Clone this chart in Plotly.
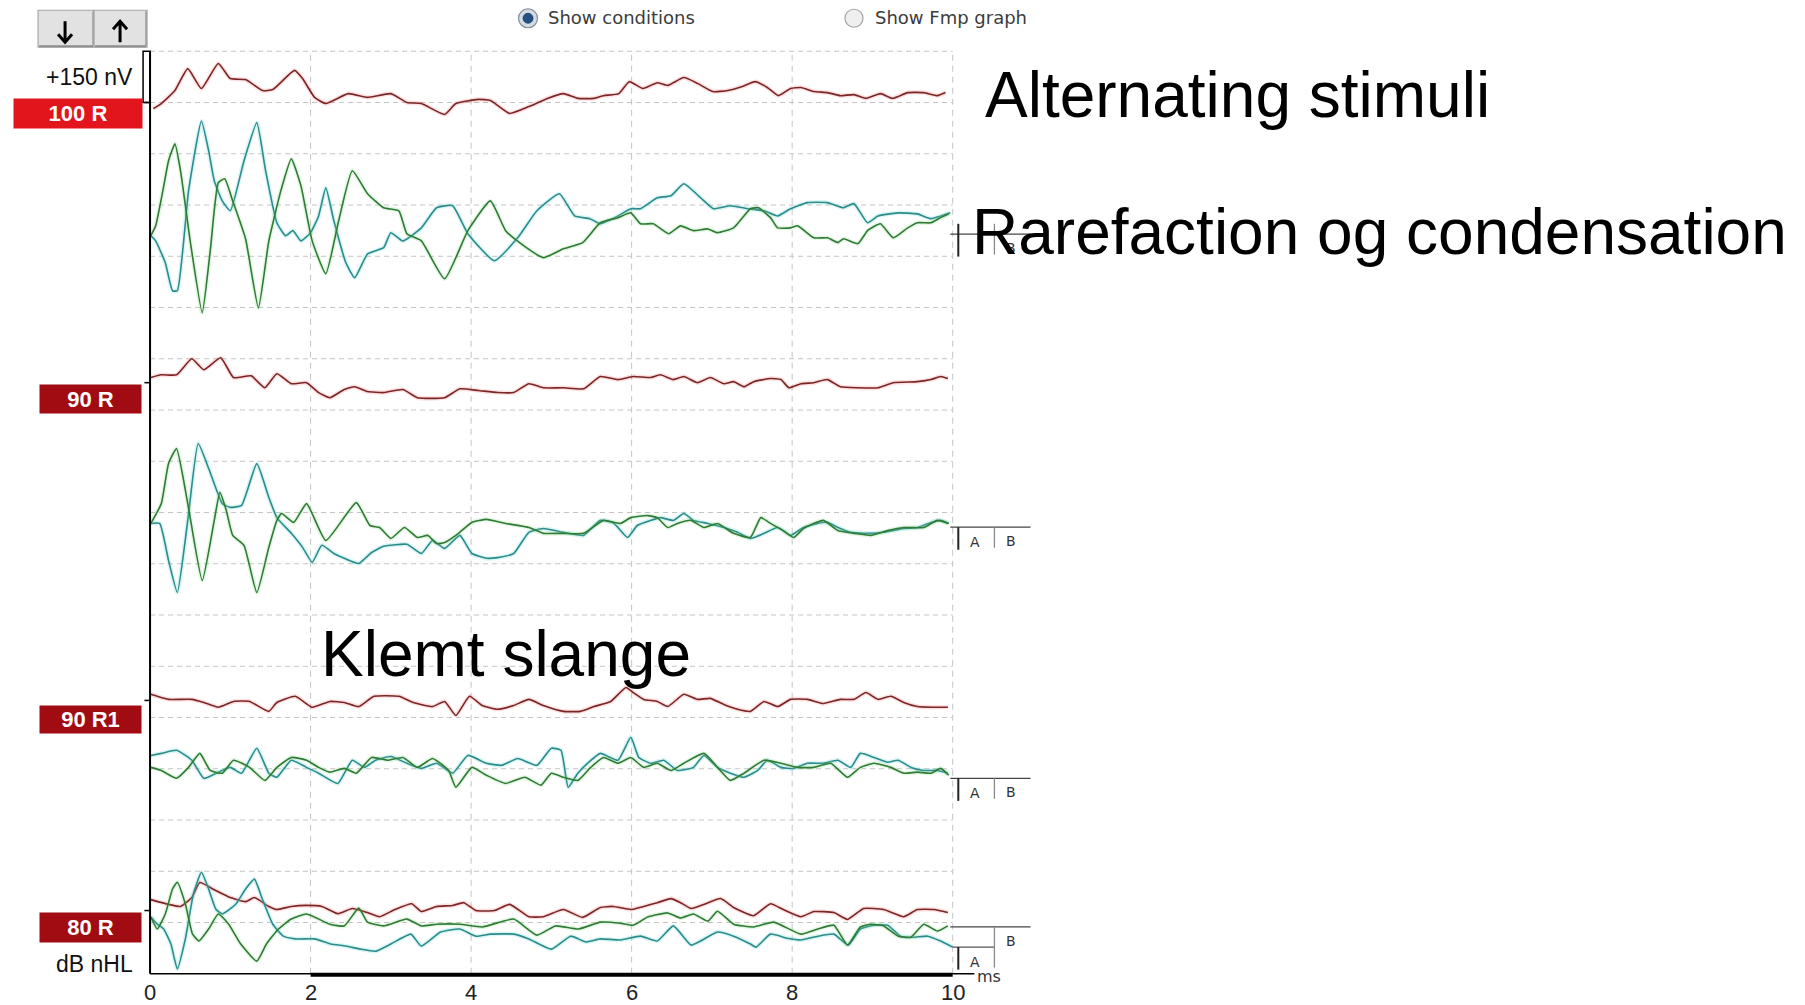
import plotly.graph_objects as go

# ---------------------------------------------------------------------------
# ABR recording: latency in ms, amplitude in nV relative to each trace baseline.
# "alt" = alternating-polarity average, "a" / "b" = the two single-polarity
# averages (rarefaction / condensation) recorded for the same level.
# ---------------------------------------------------------------------------

# 100 dB nHL
t_100_alt = [0.04, 0.14, 0.31, 0.47, 0.64, 0.85, 1.00, 1.19, 1.40, 1.53, 1.80, 1.90, 2.05, 2.19, 2.47,
             2.71, 3.00, 3.20, 3.38, 3.67, 3.81, 4.09, 4.24, 4.48, 4.72, 4.95, 5.15, 5.33, 5.53, 5.65,
             5.84, 5.97, 6.14, 6.32, 6.45, 6.65, 6.82, 7.01, 7.20, 7.38, 7.54, 7.69, 7.83, 7.98, 8.11,
             8.27, 8.44, 8.60, 8.77, 8.92, 9.10, 9.25, 9.44, 9.64, 9.81, 9.91]
v_100_alt = [-18, -3, 35, 99, 41, 114, 70, 67, 35, 38, 94, 70, 15, -3, 26,
             15, 26, 0, -3, -35, -3, 9, 6, -32, -12, 12, 26, 12, 12, 20,
             26, 61, 41, 58, 50, 73, 56, 32, 35, 47, 61, 44, 20, 41, 44,
             32, 29, 20, 23, 12, 26, 12, 29, 29, 20, 29]

t_100_a = [0.01, 0.07, 0.19, 0.28, 0.34, 0.48, 0.64, 0.73, 0.80, 0.90, 1.00, 1.17, 1.33, 1.44, 1.58,
           1.69, 1.78, 1.88, 2.00, 2.10, 2.19, 2.29, 2.44, 2.55, 2.71, 2.91, 3.00, 3.15, 3.38, 3.57,
           3.77, 3.96, 4.29, 4.58, 4.82, 5.10, 5.29, 5.48, 5.61, 5.83, 5.99, 6.11, 6.32, 6.49, 6.65,
           6.86, 7.02, 7.23, 7.45, 7.65, 7.82, 7.98, 8.19, 8.44, 8.64, 8.77, 8.94, 9.07, 9.32, 9.56,
           9.73, 9.97]
v_100_a = [0, -15, -79, -161, -161, 132, 336, 249, 161, 102, 73, 219, 331, 190, 38,
           0, 15, -15, 9, 58, 140, 44, -79, -123, -53, -35, 9, -15, 23, 82,
           88, 6, -73, -6, 73, 123, 58, 50, 35, 58, 79, 79, 111, 117, 152,
           111, 79, 88, 79, 73, 58, 79, 97, 97, 82, 94, 38, 58, 67, 64,
           50, 67]

t_100_b = [0.01, 0.07, 0.16, 0.23, 0.31, 0.38, 0.50, 0.65, 0.75, 0.85, 0.93, 1.03, 1.19, 1.35, 1.48,
           1.63, 1.76, 1.88, 2.02, 2.19, 2.35, 2.52, 2.71, 2.91, 3.10, 3.20, 3.38, 3.67, 3.96, 4.24,
           4.43, 4.62, 4.90, 5.15, 5.39, 5.61, 5.83, 5.99, 6.11, 6.27, 6.46, 6.61, 6.77, 6.95, 7.07,
           7.27, 7.48, 7.58, 7.73, 7.82, 7.98, 8.07, 8.27, 8.44, 8.57, 8.64, 8.82, 8.94, 9.10, 9.26,
           9.44, 9.56, 9.73, 9.85, 9.95]
v_100_b = [0, 29, 132, 219, 269, 190, -15, -225, -44, 155, 167, 102, -9, -211, -15,
           132, 225, 146, -15, -111, 44, 190, 123, 82, 73, 6, -15, -126, 15, 102,
           15, -23, -64, -38, -20, 38, 53, 67, 35, 35, 6, 29, 15, 20, 9,
           23, 79, 82, 53, 23, 23, 29, -6, -6, -20, -9, -23, 15, 35, -6,
           23, 38, 38, 53, 64]

# 90 dB nHL
t_90_alt = [0.01, 0.14, 0.33, 0.52, 0.67, 0.88, 1.04, 1.26, 1.43, 1.58, 1.76, 1.95, 2.10, 2.24, 2.42,
            2.55, 2.71, 2.91, 3.15, 3.33, 3.67, 3.86, 4.09, 4.33, 4.53, 4.72, 4.90, 5.15, 5.40, 5.61,
            5.83, 6.02, 6.24, 6.36, 6.52, 6.65, 6.82, 6.98, 7.15, 7.27, 7.40, 7.52, 7.73, 7.86, 7.96,
            8.11, 8.27, 8.44, 8.60, 8.82, 9.07, 9.26, 9.56, 9.73, 9.85, 9.94]
v_90_alt = [15, 23, 23, 70, 38, 73, 15, 20, -15, 26, -3, 0, -29, -44, -20,
            -12, -26, -29, -20, -44, -44, -18, -23, -29, -29, -3, -15, -15, -18, 18,
            9, 18, 15, 23, 9, 18, 0, 15, -3, 3, -12, 3, 12, 9, -15,
            -3, 0, 9, -12, -15, -15, 0, 3, 9, 18, 12]

t_90_a = [0.01, 0.12, 0.23, 0.34, 0.47, 0.60, 0.74, 0.90, 1.00, 1.14, 1.33, 1.48, 1.58, 1.76, 1.90,
          2.02, 2.14, 2.29, 2.42, 2.60, 2.76, 2.91, 3.20, 3.38, 3.52, 3.67, 3.86, 4.01, 4.19, 4.33,
          4.53, 4.72, 4.90, 5.15, 5.40, 5.61, 5.78, 5.95, 6.07, 6.24, 6.36, 6.52, 6.65, 6.77, 6.95,
          7.15, 7.32, 7.48, 7.65, 7.82, 7.98, 8.14, 8.32, 8.44, 8.57, 8.73, 8.98, 9.14, 9.39, 9.56,
          9.73, 9.85, 9.95]
v_90_a = [3, 3, -105, -199, 12, 237, 158, 61, 50, 56, 178, 79, 20, -26, -67,
          -111, -61, -85, -99, -114, -82, -64, -58, -85, -47, -70, -32, -85, -99, -97,
          -85, -23, -12, -23, -32, 12, 3, -38, -3, 12, 20, 12, 32, 12, 3,
          -9, -23, -41, -26, -9, -32, -9, 3, 6, -9, -23, -26, -23, -12, -9,
          6, 12, 3]

t_90_b = [0.01, 0.14, 0.23, 0.33, 0.47, 0.65, 0.80, 0.87, 0.95, 1.03, 1.17, 1.33, 1.48, 1.58, 1.64,
          1.79, 1.95, 2.19, 2.57, 2.74, 2.86, 3.00, 3.17, 3.33, 3.46, 3.57, 3.67, 3.81, 4.01, 4.19,
          4.43, 4.72, 4.90, 5.15, 5.40, 5.65, 5.86, 5.99, 6.20, 6.32, 6.45, 6.57, 6.74, 6.90, 7.07,
          7.27, 7.48, 7.61, 7.73, 7.89, 8.02, 8.14, 8.27, 8.39, 8.57, 8.77, 8.98, 9.19, 9.39, 9.64,
          9.81, 9.95]
v_90_b = [3, 61, 178, 222, 61, -164, 12, 94, 41, -32, -61, -199, -67, 12, 32,
          6, 61, -47, 64, -3, -9, -41, -9, -38, -32, -56, -53, -32, 6, 15,
          3, -9, -26, -26, -26, 12, 3, 20, 26, 20, -9, 3, 12, -9, 3,
          -26, -38, 20, 3, -18, -38, -12, 3, 12, -18, -26, -32, -18, -9, -9,
          12, 3]

# 90 dB nHL, second run (pinched tube)
t_90r1_alt = [0.01, 0.09, 0.23, 0.52, 0.67, 0.85, 1.04, 1.24, 1.48, 1.58, 1.81, 2.02, 2.24, 2.42, 2.60,
              2.79, 3.10, 3.28, 3.52, 3.67, 3.81, 3.98, 4.14, 4.33, 4.53, 4.72, 4.90, 5.15, 5.36, 5.53,
              5.74, 5.93, 6.02, 6.15, 6.32, 6.45, 6.65, 6.82, 6.98, 7.15, 7.32, 7.48, 7.65, 7.82, 7.98,
              8.19, 8.39, 8.60, 8.77, 8.92, 9.07, 9.23, 9.39, 9.56, 9.73, 9.94]
v_90r1_alt = [18, 12, 3, 3, -6, -20, -3, -3, -32, -6, 12, -20, -3, -6, -18,
              12, 12, -6, -18, -3, -44, 12, -15, -26, -15, 3, -15, -32, -32, -18,
              -3, 38, 23, 3, -3, -18, 18, 3, 6, -12, -26, -32, -3, -18, 3,
              3, -9, 3, 3, 23, 3, 12, -6, -18, -20, -20]

t_90r1_a = [0.01, 0.14, 0.33, 0.52, 0.67, 0.85, 1.00, 1.14, 1.33, 1.48, 1.58, 1.76, 1.95, 2.10, 2.34,
            2.52, 2.67, 2.81, 3.00, 3.20, 3.38, 3.57, 3.77, 3.96, 4.19, 4.38, 4.58, 4.82, 5.00, 5.12,
            5.21, 5.33, 5.45, 5.61, 5.83, 5.99, 6.09, 6.24, 6.40, 6.57, 6.77, 6.90, 7.07, 7.23, 7.40,
            7.57, 7.69, 7.86, 8.02, 8.19, 8.39, 8.57, 8.73, 8.85, 9.02, 9.19, 9.32, 9.48, 9.64, 9.81,
            9.94]
v_90r1_a = [29, 35, 44, 15, -38, -20, -6, -23, 50, -23, -35, 15, -6, -23, -53,
            15, -6, 15, 26, 6, -9, 6, -23, 29, 6, 0, 20, 0, 50, 44,
            -64, -23, 6, 35, 15, 82, 23, 6, 15, -15, -6, 29, -6, -23, -35,
            -15, 15, -6, -9, 6, 6, 15, -6, 35, 23, 9, 15, -6, -15, -15,
            -23]

t_90r1_b = [0.01, 0.14, 0.33, 0.48, 0.62, 0.75, 0.90, 1.04, 1.24, 1.43, 1.58, 1.76, 1.95, 2.10, 2.24,
            2.42, 2.57, 2.76, 2.96, 3.15, 3.33, 3.52, 3.72, 3.81, 4.01, 4.19, 4.43, 4.67, 4.87, 5.00,
            5.15, 5.33, 5.49, 5.65, 5.83, 5.99, 6.15, 6.32, 6.49, 6.65, 6.90, 7.07, 7.23, 7.40, 7.65,
            7.86, 8.07, 8.27, 8.48, 8.69, 8.85, 9.02, 9.23, 9.39, 9.56, 9.73, 9.85, 9.95]
v_90r1_b = [-6, -15, -38, -6, 35, -15, -23, 15, -6, -44, -6, 23, 15, -6, -20,
            -9, -23, 23, 15, 23, -6, 20, -15, -64, -6, -29, -53, -35, -58, -23,
            -35, -44, -6, 23, 6, 23, -6, 6, -15, 6, 35, -6, -44, -23, 15,
            6, -6, -6, 6, -35, -6, 6, -6, -23, -20, -23, -9, -29]

# 80 dB nHL
t_80_alt = [0.01, 0.23, 0.38, 0.52, 0.62, 0.80, 1.00, 1.19, 1.30, 1.48, 1.58, 1.76, 1.95, 2.14, 2.34,
            2.52, 2.71, 2.86, 3.05, 3.26, 3.38, 3.57, 3.77, 3.91, 4.06, 4.29, 4.48, 4.72, 4.90, 5.15,
            5.39, 5.61, 5.77, 5.99, 6.15, 6.32, 6.49, 6.61, 6.74, 6.90, 7.11, 7.27, 7.52, 7.73, 7.89,
            8.11, 8.27, 8.52, 8.69, 8.89, 9.14, 9.39, 9.56, 9.77, 9.94]
v_80_alt = [32, 18, 12, 38, 82, 61, 38, 26, 38, 12, 3, 12, 15, 12, -9,
            6, -6, -18, 3, 20, -3, 12, 15, 23, 0, 0, 18, -18, -18, 3,
            -20, 9, 12, 3, 12, 23, 35, 23, 6, 18, 35, 9, -15, 20, 3,
            -18, -3, -6, -26, 6, 3, -18, 3, 3, -6]

t_80_a = [0.01, 0.09, 0.17, 0.26, 0.34, 0.44, 0.54, 0.64, 0.73, 0.82, 0.90, 1.07, 1.19, 1.30, 1.40,
          1.53, 1.66, 1.81, 2.05, 2.25, 2.44, 2.62, 2.81, 3.00, 3.25, 3.38, 3.62, 3.86, 4.06, 4.24,
          4.53, 4.72, 5.00, 5.24, 5.43, 5.61, 5.86, 6.11, 6.32, 6.52, 6.74, 6.86, 7.07, 7.27, 7.48,
          7.55, 7.73, 7.94, 8.11, 8.32, 8.52, 8.70, 8.85, 9.02, 9.19, 9.35, 9.51, 9.69, 9.85, 10.0]
v_80_a = [6, -15, -29, -73, -146, -58, 73, 137, 88, 29, 15, 44, 88, 117, 58,
          -15, -50, -58, -58, -73, -79, -88, -94, -73, -44, -79, -38, -29, -50, -44,
          -44, -58, -88, -50, -67, -58, -61, -50, -64, -20, -76, -64, -38, -50, -73,
          -82, -44, -56, -61, -50, -44, -76, -29, -18, -18, -50, -53, -50, -64, -82]

t_80_b = [0.01, 0.09, 0.19, 0.28, 0.34, 0.44, 0.53, 0.61, 0.73, 0.85, 0.98, 1.13, 1.33, 1.45, 1.60,
          1.76, 1.95, 2.24, 2.42, 2.60, 2.71, 2.91, 3.20, 3.38, 3.57, 3.86, 4.14, 4.53, 4.82, 5.05,
          5.34, 5.61, 5.86, 6.02, 6.20, 6.45, 6.61, 6.77, 6.95, 7.07, 7.27, 7.52, 7.77, 8.11, 8.32,
          8.52, 8.69, 8.85, 8.98, 9.14, 9.32, 9.48, 9.64, 9.81, 9.94]
v_80_b = [6, -29, 15, 88, 108, 44, -44, -64, -29, 15, -15, -73, -123, -73, -29,
          0, 15, -15, -20, 32, -9, -20, 0, -20, -15, -15, -23, 0, -47, -20,
          -29, -9, -12, -18, 6, 18, 3, 15, -6, 23, -15, -23, -9, -44, -29,
          -18, -76, -23, -15, -20, -50, -53, -15, -35, -20]

# Row layout on the stacked display (nV on the display axis)
row_labels = ["100 R", "90 R", "90 R1", "80 R"]
alt_baselines = [2550, 1730, 800, 185]
pair_baselines = [2160, 1315, 610, 160]
end_level_a = [5, -8, -38, -82]     # A end marker, relative to the pair baseline
end_level_b = [5, -8, -38, -23]     # B end marker, relative to the pair baseline

x_ticks = [0, 2, 4, 6, 8, 10]
scale_bar_nv = 150                  # one grid division
n_divisions = 18
sweep_ms = 10

waves = [
    (t_100_alt, v_100_alt, t_100_a, v_100_a, t_100_b, v_100_b),
    (t_90_alt, v_90_alt, t_90_a, v_90_a, t_90_b, v_90_b),
    (t_90r1_alt, v_90r1_alt, t_90r1_a, v_90r1_a, t_90r1_b, v_90r1_b),
    (t_80_alt, v_80_alt, t_80_a, v_80_a, t_80_b, v_80_b),
]

# ---------------------------------------------------------------------------
# Geometry and styling
# ---------------------------------------------------------------------------
FIG_W, FIG_H = 1805, 1005
MS_PX = 80.27                                  # pixels per ms
NV_PX = 923 / (n_divisions * scale_bar_nv)     # pixels per nV
X0_PX, Y0_PX = 150, 974                        # pixel position of (0 ms, 0 nV)
X_RANGE = [-0.2, 11.2]
Y_RANGE = [-30, 2730]

ML = X0_PX + X_RANGE[0] * MS_PX
PW = (X_RANGE[1] - X_RANGE[0]) * MS_PX
MB = FIG_H - Y0_PX + Y_RANGE[0] * NV_PX
PH = (Y_RANGE[1] - Y_RANGE[0]) * NV_PX
MT = FIG_H - MB - PH
MR = FIG_W - ML - PW


def px(xpix):
    return (xpix - ML) / PW


def py(ypix):
    return (FIG_H - MB - ypix) / PH


ARIAL = "Liberation Sans, Arial, sans-serif"
UI = "DejaVu Sans, Verdana, sans-serif"

COL_ALT, HALO_ALT = "#7c2525", "rgba(235,120,120,0.22)"
COL_A, HALO_A = "#2c8b8b", "rgba(110,215,215,0.25)"
COL_B, HALO_B = "#2f7a35", "rgba(130,215,130,0.22)"
GRID = "#c4c4c4"

label_boxes = [  # (centre x px, centre y px, width, height, colour)
    (78, 113.5, 128, 29, "#e3151c"),
    (90.5, 399, 101, 28, "#a00c12"),
    (90.5, 719.5, 101, 27, "#a00c12"),
    (90.5, 927.5, 101, 29, "#a00c12"),
]

fig = go.Figure()


def add_wave(t, v, base, color, halo):
    assert len(t) == len(v)
    y = [base + a for a in v]
    fig.add_trace(go.Scatter(x=t, y=y, mode="lines",
                             line=dict(color=halo, width=4.5, shape="spline", smoothing=0.45),
                             hoverinfo="skip", showlegend=False))
    fig.add_trace(go.Scatter(x=t, y=y, mode="lines",
                             line=dict(color=color, width=1.6, shape="spline", smoothing=0.45),
                             hoverinfo="skip", showlegend=False))


for (ta, va, t_a, v_a, t_b, v_b), ab, pb in zip(waves, alt_baselines, pair_baselines):
    add_wave(ta, va, ab, COL_ALT, HALO_ALT)
    add_wave(t_a, v_a, pb, COL_A, HALO_A)
    add_wave(t_b, v_b, pb, COL_B, HALO_B)

shapes = []
# dashed grid
top_nv = n_divisions * scale_bar_nv
for k in range(1, n_divisions + 1):
    shapes.append(dict(type="line", xref="x", yref="y", x0=0, x1=sweep_ms,
                       y0=k * scale_bar_nv, y1=k * scale_bar_nv,
                       line=dict(color=GRID, width=1, dash="5px,4px"), layer="below"))
for xt in x_ticks[1:]:
    shapes.append(dict(type="line", xref="x", yref="y", x0=xt, x1=xt, y0=0, y1=top_nv,
                       line=dict(color=GRID, width=1, dash="6px,5px"), layer="below"))

# axes
shapes.append(dict(type="line", xref="x", yref="y", x0=0, x1=0, y0=0, y1=top_nv,
                   line=dict(color="black", width=2)))
shapes.append(dict(type="line", xref="x", yref="y", x0=0, x1=10.27, y0=0, y1=0,
                   line=dict(color="black", width=1.5)))
shapes.append(dict(type="line", xref="x", yref="y", x0=2, x1=sweep_ms, y0=-3, y1=-3,
                   line=dict(color="black", width=4)))

# amplitude scale bar
shapes.append(dict(type="rect", xref="x", yref="y", x0=-0.087, x1=0,
                   y0=top_nv - scale_bar_nv, y1=top_nv,
                   line=dict(color="black", width=1.5), fillcolor="rgba(0,0,0,0)"))

# baseline ticks of each row
for ab in alt_baselines:
    shapes.append(dict(type="line", xref="x", yref="y", x0=-0.07, x1=0, y0=ab, y1=ab,
                       line=dict(color="black", width=1.5)))

annotations = []

# latency tick labels, placed on the x axis scale
for xt in x_ticks:
    annotations.append(dict(x=xt, y=py(993), xref="x", yref="paper", text=str(xt), showarrow=False,
                            xanchor="center", yanchor="middle",
                            font=dict(family=ARIAL, size=22, color="#222222")))

# end-of-sweep A / B markers
for i, (pb, la, lb) in enumerate(zip(pair_baselines, end_level_a, end_level_b)):
    ya, yb = pb + la, pb + lb
    shapes.append(dict(type="line", xref="x", yref="y", x0=9.97, x1=10.97, y0=yb, y1=yb,
                       line=dict(color="#444444", width=1.3)))
    if ya != yb:
        shapes.append(dict(type="line", xref="x", yref="y", x0=10.0, x1=10.52, y0=ya, y1=ya,
                           line=dict(color="#555555", width=1.3)))
    up = 30 if i == 0 else 0
    shapes.append(dict(type="line", xref="x", yref="y", x0=10.07, x1=10.07,
                       y0=ya + up, y1=ya - 66, line=dict(color="#222222", width=2)))
    shapes.append(dict(type="line", xref="x", yref="y", x0=10.52, x1=10.52,
                       y0=yb + up, y1=ya - 60, line=dict(color="#8a8a8a", width=1.3)))
    if i > 0:
        annotations.append(dict(x=10.28, y=ya - 44, xref="x", yref="y", text="A", showarrow=False,
                                font=dict(family=UI, size=14, color="#333333")))
    annotations.append(dict(x=10.73, y=yb - 40, xref="x", yref="y", text="B", showarrow=False,
                            font=dict(family=UI, size=14, color="#333333")))

annotations.append(dict(x=10.45, y=-8, xref="x", yref="y", text="ms", showarrow=False,
                        font=dict(family=UI, size=16, color="#333333")))

# level labels
for (cx, cy, w, h, col), lab in zip(label_boxes, row_labels):
    annotations.append(dict(x=px(cx), y=py(cy), xref="paper", yref="paper", text="<b>%s</b>" % lab,
                            showarrow=False, width=w, height=h, bgcolor=col, borderpad=0,
                            align="center", valign="middle", xanchor="center", yanchor="middle",
                            font=dict(family=ARIAL, size=22, color="white")))

annotations.append(dict(x=px(135), y=py(77), xref="paper", yref="paper", text="+%d nV" % scale_bar_nv,
                        showarrow=False, xanchor="right", yanchor="middle",
                        font=dict(family=ARIAL, size=23, color="#111111")))
annotations.append(dict(x=px(135), y=py(964), xref="paper", yref="paper", text="dB nHL",
                        showarrow=False, xanchor="right", yanchor="middle",
                        font=dict(family=ARIAL, size=23, color="#111111")))

# toolbar buttons with arrow glyphs drawn as paths
for x0b, x1b in [(38, 94), (94, 147)]:
    shapes.append(dict(type="rect", xref="paper", yref="paper", x0=px(x0b), x1=px(x1b),
                       y0=py(47), y1=py(10), fillcolor="#e2e2e2",
                       line=dict(color="#a6a6a6", width=1.2)))
    shapes.append(dict(type="line", xref="paper", yref="paper", x0=px(x0b + 1), x1=px(x1b - 1),
                       y0=py(46), y1=py(46), line=dict(color="#8c8c8c", width=2)))
    shapes.append(dict(type="line", xref="paper", yref="paper", x0=px(x1b - 1), x1=px(x1b - 1),
                       y0=py(46), y1=py(11), line=dict(color="#9a9a9a", width=1.5)))


def arrow_path(cx, y_tail, y_head):
    d = 1 if y_head > y_tail else -1
    return ("M {a},{b} L {c},{e} M {f},{g} L {c},{e} L {h},{g}".format(
        a=px(cx), b=py(y_tail), c=px(cx), e=py(y_head),
        f=px(cx - 7), g=py(y_head - d * 8), h=px(cx + 7)))


shapes.append(dict(type="path", xref="paper", yref="paper", path=arrow_path(65, 21, 42),
                   line=dict(color="black", width=3)))
shapes.append(dict(type="path", xref="paper", yref="paper", path=arrow_path(120, 42, 21),
                   line=dict(color="black", width=3)))


def circle(cx, cy, r, fill, edge, width=1.2):
    return dict(type="circle", xref="paper", yref="paper", x0=px(cx - r), x1=px(cx + r),
                y0=py(cy + r), y1=py(cy - r), fillcolor=fill, line=dict(color=edge, width=width))


# radio buttons
shapes.append(circle(528, 18, 9.5, "#d3dbe5", "#7e8c9b"))
shapes.append(circle(528, 18, 5, "#234f82", "#1b3d66", 0.8))
shapes.append(circle(854, 18, 9, "#efefef", "#a5a5a5"))
annotations.append(dict(x=px(546), y=py(17), xref="paper", yref="paper", text="Show conditions",
                        showarrow=False, xanchor="left", yanchor="middle",
                        font=dict(family=UI, size=18, color="#3c3c3c")))
annotations.append(dict(x=px(873), y=py(17), xref="paper", yref="paper", text="Show Fmp graph",
                        showarrow=False, xanchor="left", yanchor="middle",
                        font=dict(family=UI, size=18, color="#3c3c3c")))

# slide captions
for text, x_left, y_mid in [("Alternating stimuli", 983, 95),
                            ("Rarefaction og condensation", 970, 232),
                            ("Klemt slange", 319, 654)]:
    annotations.append(dict(x=px(x_left), y=py(y_mid), xref="paper", yref="paper", text=text,
                            showarrow=False, xanchor="left", yanchor="middle",
                            font=dict(family=ARIAL, size=64, color="black")))

fig.update_layout(
    width=FIG_W, height=FIG_H,
    margin=dict(l=ML, r=MR, t=MT, b=MB, pad=0, autoexpand=False),
    paper_bgcolor="white", plot_bgcolor="white",
    showlegend=False,
    shapes=shapes,
    annotations=annotations,
    xaxis=dict(range=X_RANGE, tickvals=x_ticks, showticklabels=False,
               showgrid=False, zeroline=False, showline=False, ticks="", automargin=False,
               fixedrange=True),
    yaxis=dict(range=Y_RANGE, showgrid=False, zeroline=False, showline=False, automargin=False,
               showticklabels=False, ticks="", fixedrange=True),
)

fig.write_html("out.html", config={"displayModeBar": False})
